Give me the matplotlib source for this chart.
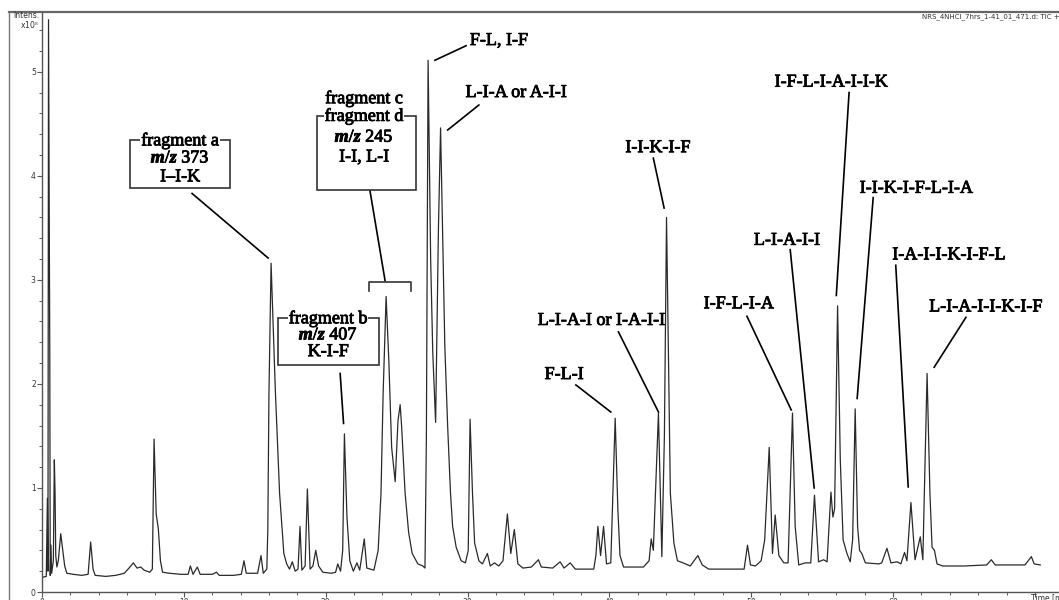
import matplotlib
matplotlib.use("Agg")
import matplotlib.pyplot as plt
import matplotlib.patheffects as pe
from matplotlib.lines import Line2D
from matplotlib.patches import Rectangle
from matplotlib.ticker import MultipleLocator

# TIC trace: retention time (min) and intensity (x10^8)
time_min = [
    0.00, 0.30, 0.38, 0.42, 0.46, 0.55, 0.58, 0.63, 0.68, 0.80, 0.87, 0.92, 0.97, 1.05, 1.15,
    1.32, 1.45, 1.60, 1.75, 2.20, 2.80, 3.25, 3.43, 3.60, 3.75, 4.50, 5.20, 5.80, 6.20, 6.44,
    6.70, 6.96, 7.20, 7.60, 7.78, 7.90, 8.05, 8.20, 8.35, 8.50, 9.00, 9.80, 10.30, 10.46, 10.65,
    10.95, 11.15, 12.00, 12.30, 12.50, 13.50, 14.05, 14.24, 14.40, 15.20, 15.44, 15.60, 15.85, 15.92, 16.00,
    16.15, 16.30, 16.45, 16.75, 17.05, 17.25, 17.45, 17.65, 17.85, 18.05, 18.19, 18.32, 18.55, 18.71, 18.90,
    19.10, 19.30, 19.50, 19.80, 20.40, 20.70, 20.85, 21.05, 21.20, 21.32, 21.50, 21.70, 21.95, 22.20, 22.40,
    22.72, 22.90, 23.40, 23.70, 23.90, 24.05, 24.26, 24.45, 24.65, 24.90, 25.10, 25.25, 25.35, 25.60, 25.85,
    26.10, 26.50, 26.85, 27.00, 27.10, 27.22, 27.40, 27.55, 27.75, 27.95, 28.10, 28.25, 28.40, 28.60, 28.80,
    28.95, 29.20, 29.55, 29.85, 30.05, 30.18, 30.35, 30.50, 30.80, 31.05, 31.40, 31.60, 31.90, 32.20, 32.50,
    32.81, 33.05, 33.30, 33.55, 33.90, 34.50, 35.00, 35.20, 36.00, 36.53, 36.80, 37.24, 37.60, 38.90, 39.05,
    39.19, 39.38, 39.59, 39.80, 40.10, 40.41, 40.60, 40.75, 41.00, 42.00, 42.40, 42.80, 42.95, 43.10, 43.46,
    43.70, 43.88, 44.03, 44.30, 44.55, 44.80, 45.20, 45.70, 46.24, 46.55, 47.00, 48.50, 49.50, 49.74, 49.95,
    50.30, 50.70, 50.95, 51.27, 51.50, 51.69, 51.95, 52.30, 52.60, 52.91, 53.10, 53.35, 53.80, 54.20, 54.46,
    54.75, 55.10, 55.35, 55.62, 55.76, 55.88, 56.09, 56.28, 56.48, 56.75, 56.98, 57.15, 57.33, 57.50, 57.64,
    57.80, 58.05, 59.00, 59.20, 59.57, 59.85, 60.30, 60.55, 60.81, 60.98, 61.26, 61.55, 61.92, 62.10, 62.40,
    62.60, 62.75, 62.92, 63.10, 63.50, 65.00, 66.60, 66.93, 67.20, 69.30, 69.75, 69.95, 70.38,
]
intensity = [
    0.14, 0.15, 0.90, 0.20, 5.50, 2.20, 0.16, 0.45, 0.18, 0.30, 1.27, 0.95, 0.35, 0.24, 0.30,
    0.56, 0.42, 0.25, 0.18, 0.17, 0.16, 0.17, 0.48, 0.22, 0.16, 0.15, 0.16, 0.18, 0.24, 0.28,
    0.23, 0.24, 0.21, 0.19, 0.22, 1.47, 0.75, 0.61, 0.30, 0.19, 0.18, 0.17, 0.17, 0.25, 0.17,
    0.24, 0.17, 0.17, 0.19, 0.16, 0.16, 0.17, 0.30, 0.18, 0.18, 0.35, 0.18, 0.22, 0.60, 1.90,
    3.16, 2.55, 1.94, 0.95, 0.37, 0.27, 0.22, 0.29, 0.20, 0.22, 0.63, 0.21, 0.25, 0.99, 0.22,
    0.25, 0.40, 0.25, 0.19, 0.18, 0.19, 0.27, 0.20, 0.40, 1.52, 0.72, 0.30, 0.20, 0.28, 0.21,
    0.51, 0.23, 0.21, 0.40, 0.95, 1.91, 2.84, 2.23, 1.39, 1.06, 1.65, 1.80, 1.60, 0.95, 0.57,
    0.37, 0.27, 0.25, 0.23, 1.50, 5.11, 3.20, 2.30, 1.63, 3.50, 4.46, 3.40, 2.36, 1.59, 0.95,
    0.63, 0.43, 0.30, 0.28, 0.40, 1.66, 0.95, 0.47, 0.30, 0.27, 0.37, 0.25, 0.28, 0.25, 0.30,
    0.75, 0.37, 0.60, 0.27, 0.23, 0.24, 0.31, 0.24, 0.23, 0.29, 0.23, 0.28, 0.22, 0.22, 0.35,
    0.63, 0.35, 0.63, 0.27, 0.28, 1.67, 0.79, 0.35, 0.24, 0.24, 0.24, 0.30, 0.51, 0.40, 1.72,
    0.34, 1.50, 3.60, 0.95, 0.47, 0.30, 0.28, 0.25, 0.35, 0.26, 0.22, 0.22, 0.22, 0.45, 0.26,
    0.25, 0.30, 0.50, 1.39, 0.37, 0.74, 0.35, 0.28, 0.28, 1.72, 0.63, 0.26, 0.28, 0.28, 0.93,
    0.29, 0.31, 0.29, 0.96, 0.72, 0.80, 2.75, 1.27, 0.50, 0.37, 0.29, 0.50, 1.76, 0.63, 0.40,
    0.37, 0.28, 0.27, 0.28, 0.42, 0.28, 0.29, 0.27, 0.38, 0.30, 0.86, 0.31, 0.53, 0.31, 2.10,
    0.95, 0.43, 0.40, 0.27, 0.25, 0.25, 0.26, 0.31, 0.26, 0.26, 0.34, 0.27, 0.26,
]

x_ticks = [0, 10, 20, 30, 40, 50, 60, 70]
x_tick_labels = ["0", "10", "20", "30", "40", "50", "60", ""]
y_ticks = [0, 1, 2, 3, 4, 5]

# peak labels: text, text centre, leader start, leader end (data coords)
peak_labels = [
    ("F-L, I-F", (32.2, 5.30), (29.9, 5.25), (27.7, 5.11)),
    ("L-I-A or A-I-I", (33.4, 4.80), (30.8, 4.68), (28.6, 4.44)),
    ("I-I-K-I-F", (43.4, 4.27), (43.1, 4.17), (43.86, 3.69)),
    ("I-F-L-I-A-I-I-K", (55.6, 4.90), (56.9, 4.80), (56.0, 2.85)),
    ("I-I-K-I-F-L-I-A", (61.6, 3.88), (58.6, 3.79), (57.47, 1.86)),
    ("L-I-A-I-I", (52.5, 3.38), (52.75, 3.29), (54.44, 1.00)),
    ("I-A-I-I-K-I-F-L", (63.9, 3.24), (60.19, 3.14), (61.07, 1.01)),
    ("L-I-A-I-I-K-I-F", (66.5, 2.74), (65.14, 2.64), (62.9, 2.16)),
    ("I-F-L-I-A", (49.1, 2.77), (49.7, 2.65), (52.82, 1.75)),
    ("L-I-A-I or I-A-I-I", (39.4, 2.61), (40.64, 2.50), (43.46, 1.73)),
    ("F-L-I", (36.8, 2.09), (37.64, 1.99), (40.1, 1.73)),
]

plt.rcParams["mathtext.fontset"] = "custom"
plt.rcParams["mathtext.it"] = "Liberation Serif:italic:bold"
plt.rcParams["mathtext.rm"] = "Liberation Serif"
serif = "Liberation Serif"
fs = 13
heavy = [pe.withStroke(linewidth=0.6, foreground="black")]

fig = plt.figure(figsize=(10.59, 6.0), dpi=100)
W, H = 1059.0, 600.0
ax = fig.add_axes([42 / W, 8 / H, (W - 42) / W, 580 / H])
ax.plot(time_min, intensity, color="#2a2a2a", lw=0.9, zorder=2)
ax.set_xlim(0, 71.7)
ax.set_ylim(0, 5.574)

for s in ["top", "right"]:
    ax.spines[s].set_visible(False)
for s in ["left", "bottom"]:
    ax.spines[s].set_color("#555555")
    ax.spines[s].set_linewidth(1.0)

ax.set_xticks(x_ticks)
ax.set_xticklabels(x_tick_labels)
ax.set_yticks(y_ticks)
ax.xaxis.set_minor_locator(MultipleLocator(2))
ax.yaxis.set_minor_locator(MultipleLocator(0.2))
ax.tick_params(which="major", direction="out", length=3.5, width=0.8, color="#555555",
               labelsize=5.5, labelcolor="#333333", pad=1)
ax.tick_params(which="minor", direction="out", length=2, width=0.7, color="#555555")

# peak labels with leader lines
for label, txy, p0, p1 in peak_labels:
    ax.text(txy[0], txy[1], label, family=serif, fontsize=fs, ha="center", va="center",
            zorder=5, path_effects=heavy)
    ax.plot([p0[0], p1[0]], [p0[1], p1[1]], color="black", lw=1.2, zorder=4)


def fragment_box(lines, cx, ys, box, leader):
    x0, x1, y0, y1 = box
    ax.add_patch(Rectangle((x0, y0), x1 - x0, y1 - y0, facecolor="white",
                           edgecolor="#333333", lw=1.2, zorder=3))
    for i, (t, y) in enumerate(zip(lines, ys)):
        bb = dict(facecolor="white", edgecolor="none", pad=0.5) if i == 0 else None
        ax.text(cx, y, t, family=serif, fontsize=fs, ha="center", va="center", zorder=6,
                bbox=bb, path_effects=heavy)
    ax.plot([leader[0][0], leader[1][0]], [leader[0][1], leader[1][1]], color="black", lw=1.2, zorder=4)


fragment_box(["fragment a", r"$\mathit{m/z}$ 373", "I\u2013I-K"], 9.73, [4.34, 4.17, 3.99],
             (6.2, 13.26, 3.88, 4.34), ((10.58, 3.83), (15.94, 3.21)))
fragment_box(["fragment b", r"$\mathit{m/z}$ 407", "K-I-F"], 20.17, [2.63, 2.47, 2.31],
             (16.64, 23.77, 2.18, 2.63), ((21.02, 2.10), (21.26, 1.62)))
fragment_box(["fragment d", r"$\mathit{m/z}$ 245", "I-I, L-I"], 22.7, [4.575, 4.37, 4.18],
             (19.4, 26.4, 3.86, 4.575), ((23.13, 3.85), (24.19, 2.99)))
ax.text(22.7, 4.745, "fragment c", family=serif, fontsize=fs, ha="center", va="center",
        zorder=6, path_effects=heavy)
# bracket over fragments c/d
ax.plot([23.06, 23.06, 26.02, 26.02], [2.89, 2.98, 2.98, 2.89], color="#333333", lw=1.2, zorder=4)

# instrument frame and header texts
fig.add_artist(Line2D([9 / W, 1.0], [1 - 12 / H, 1 - 12 / H], color="#666666", lw=1.6))
fig.add_artist(Line2D([9 / W, 9 / W], [0, 1 - 12 / H], color="#777777", lw=1.0))
fig.text(39 / W, 1 - 16 / H, "Intens.", fontsize=5.5, ha="right", va="center", color="#333333")
fig.text(39 / W, 1 - 25 / H, r"x10$^8$", fontsize=5.5, ha="right", va="center", color="#333333")
fig.text(922 / W, 1 - 17 / H, "NRS_4NHCl_7hrs_1-41_01_471.d: TIC +All MS", fontsize=5,
         ha="left", va="center", color="#333333")
fig.text(1031 / W, 1 - 598 / H, "Time [min]", fontsize=5.5, ha="left", va="center", color="#333333")

fig.savefig("out.png", dpi=100)
